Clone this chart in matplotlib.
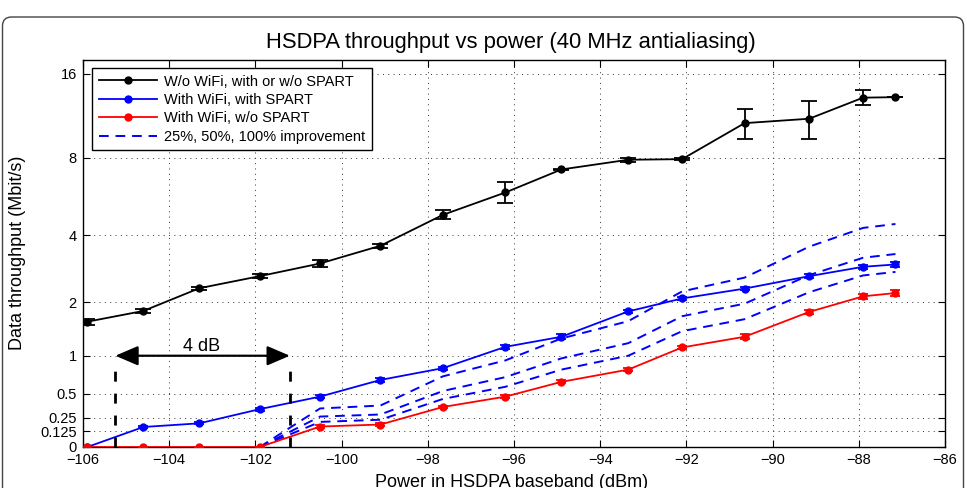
import numpy as np
import matplotlib
matplotlib.use("Agg")
import matplotlib.pyplot as plt
from matplotlib.lines import Line2D
from matplotlib.patches import FancyBboxPatch
from matplotlib.transforms import IdentityTransform

plt.rcParams['font.family'] = ['Liberation Sans', 'DejaVu Sans']

# ---------------- data ----------------
power = [-105.9, -104.6, -103.3, -101.9, -100.5, -99.1, -97.65, -96.2,
         -94.9, -93.35, -92.1, -90.65, -89.15, -87.9, -87.15]

no_wifi = [1.59, 1.81, 2.34, 2.66, 3.03, 3.61, 4.83, 5.91, 7.23, 7.86,
           7.9, 10.7, 11.1, 13.2, 13.25]
no_wifi_err = [0.06, 0.05, 0.04, 0.05, 0.1, 0.06, 0.2, 0.55, 0.05, 0.12,
               0.05, 1.35, 1.7, 0.8, 0.0]

spart = [0.0, 0.164, 0.197, 0.333, 0.466, 0.664, 0.82, 1.14, 1.31, 1.80,
         2.09, 2.33, 2.66, 2.93, 3.0]
spart_err = [0.0, 0.01, 0.01, 0.015, 0.015, 0.02, 0.02, 0.03, 0.04, 0.04,
             0.04, 0.04, 0.05, 0.06, 0.08]

no_spart = [0.0, 0.0, 0.0, 0.0, 0.168, 0.186, 0.355, 0.466, 0.64, 0.80,
            1.13, 1.31, 1.79, 2.14, 2.22]
no_spart_err = [0.0, 0.0, 0.0, 0.0, 0.01, 0.01, 0.015, 0.015, 0.02, 0.02,
                0.03, 0.04, 0.04, 0.06, 0.07]

# improvement curves (from -101.9 dBm on)
impr_power = [-101.9, -100.5, -99.1, -97.65, -96.2, -94.9, -93.35, -92.1,
              -90.65, -89.15, -87.9, -87.15]
impr_25 = [0.0, 0.21, 0.23, 0.44, 0.58, 0.80, 1.0, 1.41, 1.64, 2.24, 2.68, 2.78]
impr_50 = [0.0, 0.26, 0.28, 0.53, 0.70, 0.96, 1.2, 1.70, 1.97, 2.69, 3.21, 3.33]
impr_100 = [0.0, 0.34, 0.37, 0.71, 0.93, 1.28, 1.6, 2.26, 2.62, 3.58, 4.28, 4.44]

yticks = [0, 0.125, 0.25, 0.5, 1, 2, 4, 8, 16]
ytick_labels = ['0', '0.125', '0.25', '0.5', '1', '2', '4', '8', '16']
xticks = [-106, -104, -102, -100, -98, -96, -94, -92, -90, -88, -86]

legend_labels = ['W/o WiFi, with or w/o SPART', 'With WiFi, with SPART',
                 'With WiFi, w/o SPART', '25%, 50%, 100% improvement']

# ---------------- figure ----------------
W, H = 967, 488
fig = plt.figure(figsize=(W / 100, H / 100), dpi=100)
fig.patch.set_facecolor('white')

# rounded outer frame
frame = FancyBboxPatch((2.5, -20), 961, H - 17 + 20,
                       boxstyle='round,pad=0,rounding_size=9',
                       transform=IdentityTransform(), fill=False,
                       edgecolor='#444444', lw=1.0)
fig.patches.append(frame)

ax_l, ax_r, ax_t, ax_b = 83, 945, 60, 447
ax = fig.add_axes([ax_l / W, 1 - ax_b / H, (ax_r - ax_l) / W, (ax_b - ax_t) / H])

fwd = lambda v: np.log2(1 + np.maximum(v, -0.999))
inv = lambda v: 2 ** v - 1
ax.set_yscale('function', functions=(fwd, inv))

lw = 1.3
ms = 5
ax.errorbar(power, no_wifi, yerr=no_wifi_err, fmt='-o', color='k', lw=lw,
            ms=ms, capsize=5.5, elinewidth=1.3, capthick=1.3, zorder=4)
ax.errorbar(power, spart, yerr=spart_err, fmt='-o', color='#0000ff', lw=lw,
            ms=ms, capsize=3.5, elinewidth=1.3, capthick=1.3, zorder=4)
ax.errorbar(power, no_spart, yerr=no_spart_err, fmt='-o', color='#ff0000', lw=lw,
            ms=ms, capsize=3.5, elinewidth=1.3, capthick=1.3, zorder=4)
for series in (impr_25, impr_50, impr_100):
    ax.plot(impr_power, series, color='#0000ff', lw=1.4, dashes=(5, 3.5), zorder=3)

# 4 dB annotation
for xv in (-105.25, -101.2):
    ax.plot([xv, xv], [0, 0.85], color='k', lw=2.0, dashes=(3.6, 4.3), zorder=5)
ax.annotate('', xy=(-101.2, 1), xytext=(-105.25, 1),
            arrowprops=dict(arrowstyle='<|-|>,head_length=1.4,head_width=0.6',
                            lw=1.6, color='k', shrinkA=0, shrinkB=0,
                            mutation_scale=10), zorder=5)
ax.text(-103.25, 1.08, '4 dB', ha='center', va='baseline', fontsize=13)

ax.set_xlim(-106, -86)
ax.set_ylim(0, 17.9)
ax.set_xticks(xticks)
ax.set_yticks(yticks)
ax.set_yticklabels(ytick_labels)
ax.minorticks_off()
ax.tick_params(direction='in', length=5, width=0.8, top=True, right=True,
               labelsize=10.5, pad=4.5)
for s in ax.spines.values():
    s.set_linewidth(1.0)
ax.grid(True, which='major', color='#333333', lw=0.7, linestyle=(0, (1, 4.5)))

handles = [
    Line2D([], [], color='k', lw=lw, marker='o', ms=ms),
    Line2D([], [], color='#0000ff', lw=lw, marker='o', ms=ms),
    Line2D([], [], color='#ff0000', lw=lw, marker='o', ms=ms),
    Line2D([], [], color='#0000ff', lw=1.4, dashes=(5, 3.5)),
]
leg = ax.legend(handles, legend_labels, loc='upper left',
                bbox_to_anchor=(9 / 862, 1 - 8 / 387), borderaxespad=0,
                fontsize=10.5, handlelength=4.0, handletextpad=0.5,
                labelspacing=0.3, borderpad=0.45, fancybox=False,
                framealpha=1, edgecolor='k')
leg.get_frame().set_linewidth(1.0)
leg.set_zorder(10)

fig.text(510.5 / W, 1 - 48 / H, 'HSDPA throughput vs power (40 MHz antialiasing)',
         ha='center', va='baseline', fontsize=15.8)
fig.text(512 / W, 1 - 487 / H, 'Power in HSDPA baseband (dBm)',
         ha='center', va='baseline', fontsize=13)
fig.text(18 / W, 1 - 253 / H, 'Data throughput (Mbit/s)', ha='center',
         va='center', rotation=90, fontsize=13)

fig.savefig('out.png', dpi=100)
